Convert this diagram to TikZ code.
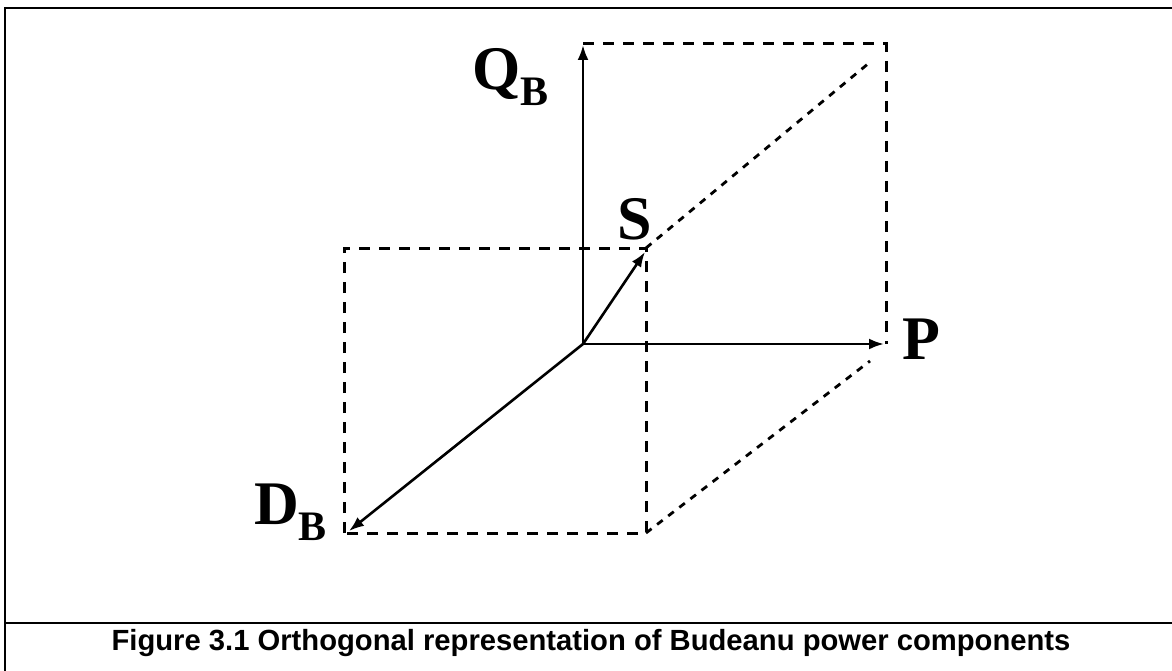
\documentclass[tikz,border=0pt]{standalone}
\usepackage{fontspec}
\setmainfont{Liberation Serif}
\newfontfamily\capfont{Liberation Sans}
\usetikzlibrary{arrows.meta}
\tikzset{
  x=1pt,y=-1pt,
  vec/.style={line width=2.6pt,-{Latex[length=15pt,width=11pt]}},
  boxdash/.style={line width=3pt,dash pattern=on 11pt off 9pt},
  diagdash/.style={line width=2.8pt,dash pattern=on 7pt off 7pt},
  framel/.style={line width=2.2pt},
  lbl/.style={inner sep=0pt,anchor=base west,font=\bfseries\fontsize{62}{62}\selectfont},
}
\newcommand{\subB}{\fontsize{42}{42}\selectfont\raisebox{-16pt}{B}}
\begin{document}
\begin{tikzpicture}
\useasboundingbox (0,0) rectangle (1172,671);
% frame
\coordinate (ftl) at (5,8);
\coordinate (ftr) at (1172,8);
\coordinate (fbl) at (5,671);
\coordinate (fsl) at (5,623);
\coordinate (fsr) at (1172,623);
\draw[framel] (fbl) -- (ftl) -- (ftr);
\draw[framel] (fsl) -- (fsr);
% points
\coordinate (O) at (583,344);
\coordinate (Qt) at (583,45);
\coordinate (Pt) at (884,344);
\coordinate (Dt) at (349,531);
\coordinate (St) at (645,252);
% back square
\coordinate (b1) at (583,44);
\coordinate (b2) at (886,44);
\coordinate (b3) at (886,344);
% front square
\coordinate (f1) at (344,533);
\coordinate (f2) at (344,248);
\coordinate (f3) at (646,248);
\coordinate (f4) at (646,533);
% diagonal ends
\coordinate (d1) at (869,63);
\coordinate (d2) at (870,361);
\draw[boxdash] (b1) -- (b2) -- (b3);
\draw[boxdash] (f1) -- (f2) -- (f3) -- (f4) -- cycle;
\draw[diagdash] (f3) -- (d1);
\draw[diagdash] (f4) -- (d2);
% vectors
\draw[vec] (O) -- (Qt);
\draw[vec] (O) -- (Pt);
\draw[vec] (O) -- (Dt);
\draw[vec] (O) -- (St);
% labels
\node[lbl] (lQ) at (472,90) {Q\subB};
\node[lbl] (lD) at (254,524) {D\subB};
\node[lbl] (lS) at (617,240) {S};
\node[lbl] (lP) at (902,359) {P};
\node[inner sep=0pt,anchor=base,font=\capfont\bfseries\fontsize{29.2}{29.2}\selectfont] (cap) at (591,650) {Figure 3.1 Orthogonal representation of Budeanu power components};
\end{tikzpicture}
\end{document}
